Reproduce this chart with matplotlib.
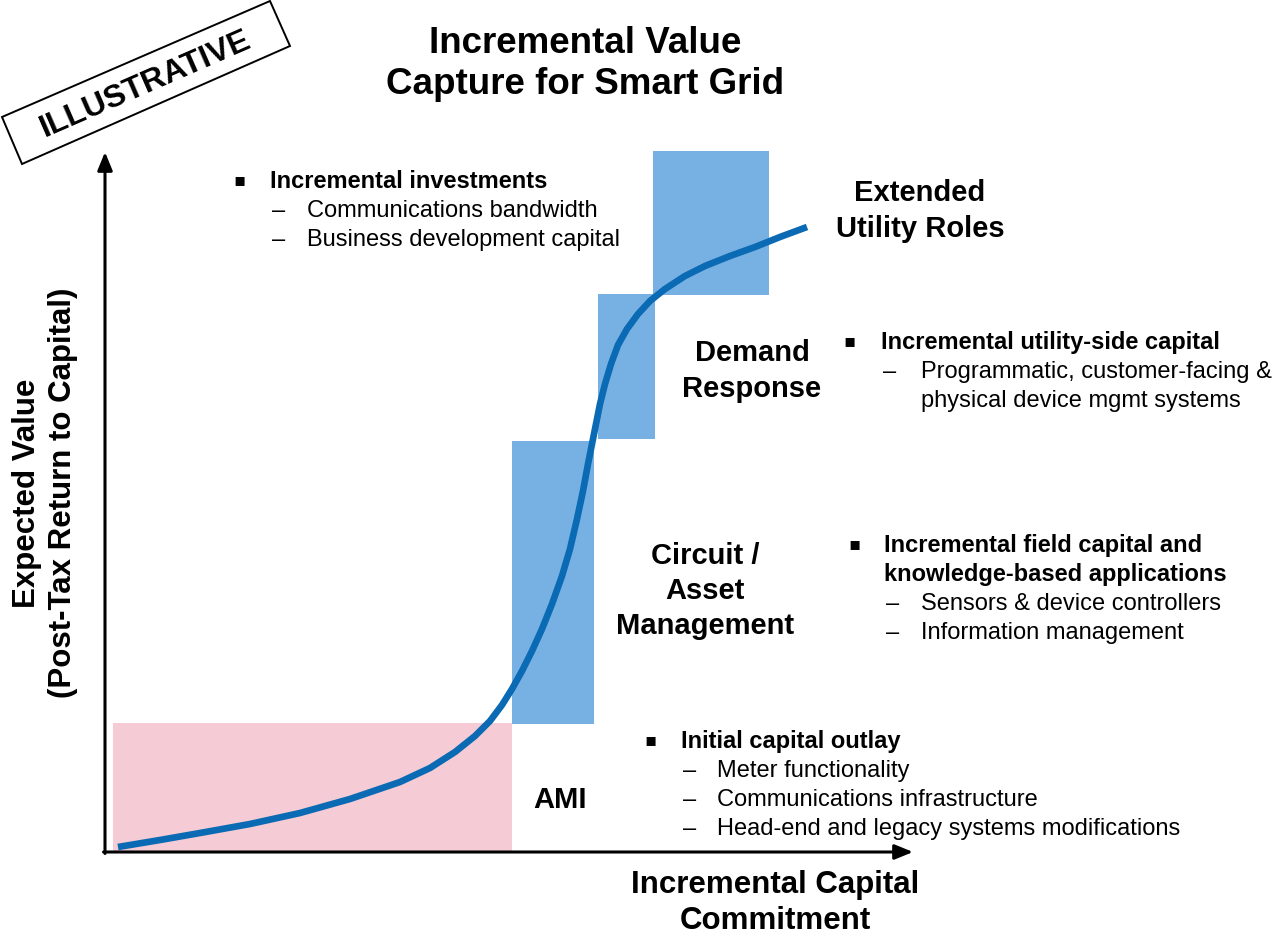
import matplotlib
matplotlib.use("Agg")
import matplotlib.pyplot as plt
from matplotlib.patches import Rectangle, Polygon

plt.rcParams['font.family'] = ['Liberation Sans', 'DejaVu Sans']

# ---------------- data (diagram coordinates, pixel-like units, y downward) ----------------
stage_names = ["AMI", "Circuit /\nAsset\nManagement", "Demand\nResponse", "Extended\nUtility Roles"]
block_x0 = [113, 512, 598, 653]
block_x1 = [512, 594, 655, 769]
block_top = [724, 442, 295, 152]
block_bottom = [853, 725, 440, 296]

curve_x = [118, 160, 200, 250, 300, 350, 400, 430, 455, 475, 490, 502, 512, 522, 532, 542,
           552, 562, 570, 577, 583, 588, 592, 596, 600, 605, 611, 618, 627, 638, 650, 665,
           685, 705, 730, 755, 780, 807]
curve_y = [848, 841, 834, 825, 814, 800, 783, 769, 753, 737, 722, 706, 690, 672, 652, 630,
           605, 577, 550, 520, 492, 465, 445, 425, 405, 385, 365, 346, 330, 315, 302, 290,
           277, 267, 257, 248, 238, 228]

title_text = "Incremental Value\nCapture for Smart Grid"
xlabel_text = "Incremental Capital\nCommitment"
ylabel_text = "Expected Value\n(Post-Tax Return to Capital)"
stamp_text = "ILLUSTRATIVE"

notes = [
    ("Incremental investments", ["Communications bandwidth", "Business development capital"]),
    ("Incremental utility-side capital", ["Programmatic, customer-facing &\nphysical device mgmt systems"]),
    ("Incremental field capital and\nknowledge-based applications", ["Sensors & device controllers", "Information management"]),
    ("Initial capital outlay", ["Meter functionality", "Communications infrastructure",
                               "Head-end and legacy systems modifications"]),
]

# ---------------- figure ----------------
W, H = 1276, 937
fig = plt.figure(figsize=(W / 100, H / 100), dpi=100)
ax = fig.add_axes([0, 0, 1, 1])
ax.set_xlim(0, W)
ax.set_ylim(H, 0)
ax.axis("off")

PINK = "#F5CCD5"
BLUE = "#77B1E3"
CURVE = "#0A6AB4"
block_colors = [PINK, BLUE, BLUE, BLUE]

for x0, x1, yt, yb, c in zip(block_x0, block_x1, block_top, block_bottom, block_colors):
    ax.add_patch(Rectangle((x0, yt), x1 - x0, yb - yt, facecolor=c, edgecolor="none", zorder=1))

ax.plot(curve_x, curve_y, color=CURVE, lw=4.8, solid_capstyle="butt", solid_joinstyle="round", zorder=3)

# axes arrows
ox, oy = 105, 853
ax.annotate("", xy=(ox, 153), xytext=(ox, oy + 1.5),
            arrowprops=dict(arrowstyle="-|>,head_length=1.1,head_width=0.45", color="black", lw=2.2,
                            shrinkA=0, shrinkB=0), zorder=4)
ax.annotate("", xy=(913, oy), xytext=(ox - 1.5, oy),
            arrowprops=dict(arrowstyle="-|>,head_length=1.1,head_width=0.45", color="black", lw=2.2,
                            shrinkA=0, shrinkB=0), zorder=4)

# title and axis labels
ax.text(585, 64, title_text, ha="center", va="center", fontsize=26.5, fontweight="bold", linespacing=1.24)
ax.text(775, 903, xlabel_text, ha="center", va="center", fontsize=22.5, fontweight="bold", linespacing=1.25)
ax.text(45, 493, ylabel_text, ha="center", va="center", fontsize=22.5, fontweight="bold",
        rotation=90, linespacing=1.25)

# ILLUSTRATIVE stamp
corners = [(2, 118), (270, 2), (290, 47), (22, 165)]
ax.add_patch(Polygon(corners, closed=True, facecolor="white", edgecolor="black", lw=1.4, zorder=5))
ax.text(146, 84, stamp_text, ha="center", va="center", fontsize=23, fontweight="bold",
        rotation=23.6, rotation_mode="anchor", zorder=6)

# stage labels
stage_pos = [(560, 800), (705, 591), (752, 371), (920, 211)]
for name, (sx, sy) in zip(stage_names, stage_pos):
    ax.text(sx, sy, name, ha="center", va="center", fontsize=21, fontweight="bold", linespacing=1.32)

# bullet notes
note_layout = [
    # bullet x, heading x, y of first line, dash x, item x
    (233, 270, 182, 272, 307),
    (843, 881, 343, 883, 921),
    (848, 884, 546, 886, 921),
    (644, 681, 742, 683, 717),
]
LINE = 29
for (head, items), (bx, hx, y0, dx, ix) in zip(notes, note_layout):
    ax.text(bx, y0 - 2, "\u25aa", ha="left", va="center", fontsize=13, family=["DejaVu Sans"])
    y = y0
    for hl in head.split("\n"):
        ax.text(hx, y, hl, ha="left", va="center", fontsize=17, fontweight="bold")
        y += LINE
    for it in items:
        ax.text(dx, y, "\u2013", ha="left", va="center", fontsize=17)
        for sl in it.split("\n"):
            ax.text(ix, y, sl, ha="left", va="center", fontsize=17)
            y += LINE

fig.savefig("out.png", dpi=100)
